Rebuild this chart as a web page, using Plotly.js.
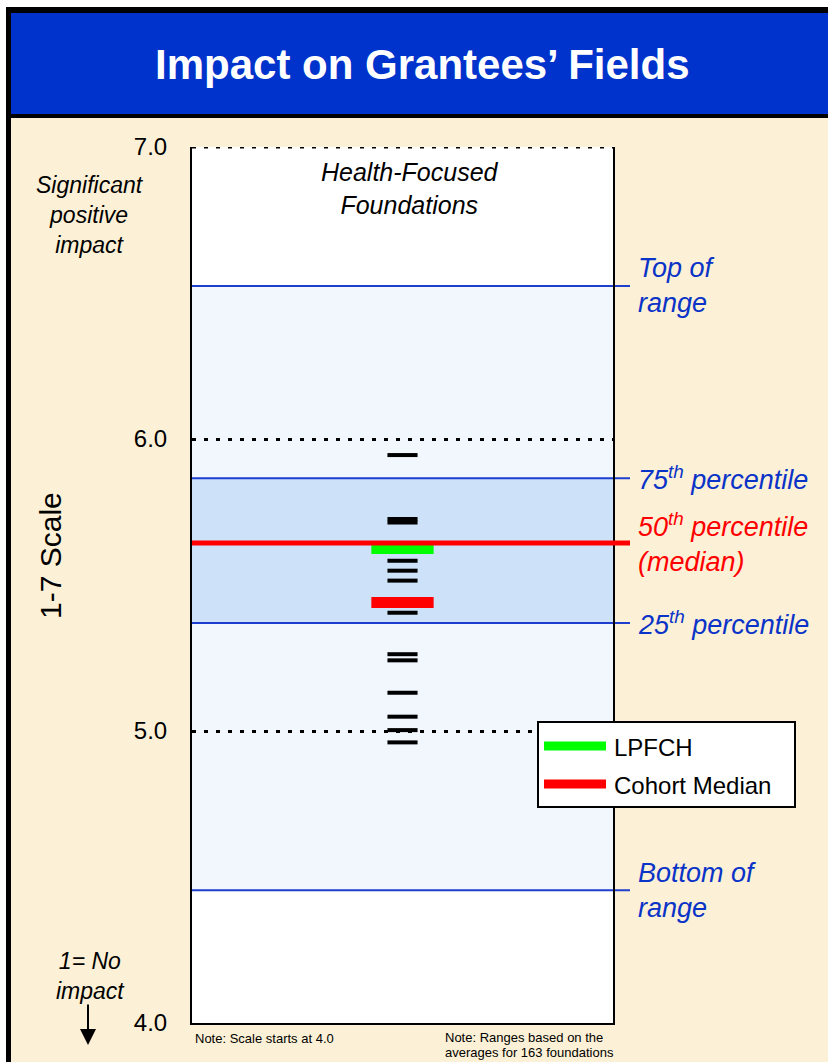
<!DOCTYPE html>
<html><head><meta charset="utf-8">
<script src="https://cdn.plot.ly/plotly-3.0.1.min.js"></script>
<style>html,body{margin:0;padding:0;background:#fff}#chart{width:828px;height:1062px}</style>
</head><body><div id="chart"></div>
<script>
// ---- data ----
const chartTitle = "Impact on Grantees’ Fields";
const panelCategory = "Health-Focused Foundations";
const panelLabel = "Health-Focused<br>Foundations";
const yTickValues = [4, 5, 6, 7];
const yTickLabels = ["4.0", "5.0", "6.0", "7.0"];
const foundationScores = [5.945, 5.726, 5.714, 5.583, 5.549, 5.515, 5.405, 5.263, 5.242, 5.131, 5.049, 5.003, 4.961];
const lpfchScore = [5.625];
const cohortMedianScore = [5.440];
const seriesNames = ["LPFCH", "Cohort Median"];
const rangeLabels = ["Top of<br>range", "75<sup>th</sup> percentile", "50<sup>th</sup> percentile<br>(median)", "25<sup>th</sup> percentile", "Bottom of<br>range"];
const rangeValues = [6.524, 5.866, 5.644, 5.370, 4.455];
const yAxisTitle = "1-7 Scale";
const topNote = "Significant<br>positive<br>impact";
const bottomNote = "1= No<br>impact";
const footNotes = ["Note: Scale starts at 4.0", "Note: Ranges based on the", "averages for 163 foundations"];

// ---- geometry helpers (pixel -> paper) ----
const W = 828, H = 1062, L = 192, R = 613, T = 147, B = 1023;
const px = v => (v - L) / (R - L);
const py = v => (B - v) / (B - T);
const FONT = "Liberation Sans, Arial, Helvetica, sans-serif";
const BLUE = "#0a33c8";
const LINEBLUE = "#1e3ed0";

const xs = arr => arr.map(() => panelCategory);

const traces = [
  {type: "scatter", mode: "markers", x: xs(foundationScores), y: foundationScores, name: "Foundations",
   marker: {symbol: "line-ew", size: 21.5, line: {width: 4, color: "#000"}}, hoverinfo: "y", showlegend: false},
  {type: "scatter", mode: "markers", x: xs(lpfchScore), y: lpfchScore, name: seriesNames[0],
   marker: {symbol: "line-ew", size: 44.5, line: {width: 11, color: "#00ff00"}}, showlegend: false},
  {type: "scatter", mode: "markers", x: xs(cohortMedianScore), y: cohortMedianScore, name: seriesNames[1],
   marker: {symbol: "line-ew", size: 44.5, line: {width: 11, color: "#ff0000"}}, showlegend: false}
];

const shapes = [];
const rect = (x0, y0, x1, y1, color) => shapes.push({type: "rect", xref: "paper", yref: "paper",
  x0: px(x0), x1: px(x1), y0: py(y1), y1: py(y0), fillcolor: color, line: {width: 0}, layer: "below"});
// frame
rect(0, 0, W + 5, 7, "#ffffff");
rect(0, 0, 6, H + 5, "#ffffff");
rect(6, 7, W + 5, 13, "#000000");
rect(6, 7, 11, H + 5, "#000000");
rect(11, 13, W + 5, 114, "#0033cc");
rect(11, 114, W + 5, 118, "#000000");

// range shading
shapes.push({type: "rect", xref: "x domain", yref: "y", x0: 0, x1: 1, y0: rangeValues[4], y1: rangeValues[0],
  fillcolor: "#f2f7fe", line: {width: 0}, layer: "below"});
shapes.push({type: "rect", xref: "x domain", yref: "y", x0: 0, x1: 1, y0: rangeValues[3], y1: rangeValues[1],
  fillcolor: "#cde2f9", line: {width: 0}, layer: "below"});
// dotted top edge at the scale maximum (grid is skipped at the axis edge)
const yMax = yTickValues[yTickValues.length - 1];
shapes.push({type: "line", xref: "paper", yref: "y", x0: 0, x1: 1, y0: yMax, y1: yMax,
  line: {color: "#000", width: 3, dash: "4px,8px"}, layer: "above"});
// range lines
rangeValues.forEach((v, i) => {
  const isMed = i === 2;
  shapes.push({type: "line", xref: "paper", yref: "y", x0: 0, x1: px(630), y0: v, y1: v,
    line: {color: isMed ? "#ff0000" : LINEBLUE, width: isMed ? 5 : 2}, layer: isMed ? "above" : "between"});
});
// legend box
shapes.push({type: "rect", xref: "paper", yref: "paper", x0: px(538), x1: px(795), y0: py(807), y1: py(722),
  fillcolor: "#ffffff", line: {color: "#000", width: 2}, layer: "above"});
shapes.push({type: "line", xref: "paper", yref: "paper", x0: px(544), x1: px(606), y0: py(746), y1: py(746),
  line: {color: "#00ff00", width: 9}, layer: "above"});
shapes.push({type: "line", xref: "paper", yref: "paper", x0: px(544), x1: px(606), y0: py(784), y1: py(784),
  line: {color: "#ff0000", width: 9}, layer: "above"});

const ann = [];
const txt = (text, x, y, size, opts = {}) => ann.push(Object.assign({text, xref: "paper", yref: "paper",
  x: px(x), y: py(y), showarrow: false, xanchor: "center", yanchor: "middle",
  font: {family: FONT, size, color: "#000"}}, opts));

txt("<b>" + chartTitle + "</b>", 422, 65, 42, {font: {family: FONT, size: 42, color: "#ffffff"}});
txt("<i>" + panelLabel + "</i>", 410, 189, 25);
txt("<i>" + topNote + "</i>", 90, 215, 23);
txt("<i>" + bottomNote + "</i>", 90, 976, 23);
txt(yAxisTitle, 50, 556, 30, {textangle: -90});
txt(seriesNames[0], 612, 747, 24, {xanchor: "left"});
txt(seriesNames[1], 612, 785, 24, {xanchor: "left"});
txt(footNotes[0], 193, 1038, 13, {xanchor: "left"});
txt(footNotes[1], 443, 1037, 13, {xanchor: "left"});
txt(footNotes[2], 443, 1052, 13, {xanchor: "left"});
rangeLabels.forEach((t, i) => {
  ann.push({text: "<i>" + t + "</i>", xref: "paper", yref: "y", x: px(636), y: rangeValues[i],
    xanchor: "left", yanchor: "middle", align: "left", showarrow: false,
    font: {family: FONT, size: 27, color: i === 2 ? "#ff0000" : BLUE}});
});
// arrow
ann.push({text: "", xref: "paper", yref: "paper", x: px(88), y: py(1045), ax: 0, ay: -42,
  showarrow: true, arrowhead: 2, arrowsize: 1.6, arrowwidth: 2, arrowcolor: "#000"});

const layout = {
  width: W, height: H,
  margin: {l: L, r: W - R, t: T, b: H - B, pad: 0},
  paper_bgcolor: "#fcf1d6",
  plot_bgcolor: "#ffffff",
  showlegend: false,
  font: {family: FONT, color: "#000"},
  xaxis: {type: "category", range: [-0.5, 0.5], showgrid: false, zeroline: false, showticklabels: false,
    ticks: "", showline: true, linecolor: "#000", linewidth: 2, mirror: false, fixedrange: true},
  yaxis: {range: [4, 7], tickvals: yTickValues, ticktext: yTickLabels, showgrid: true,
    gridcolor: "#000", gridwidth: 3, griddash: "4px,8px", zeroline: false,
    showline: true, linecolor: "#000", linewidth: 2, mirror: true, ticks: "", ticklabelstandoff: 18,
    tickfont: {family: FONT, size: 24, color: "#000"}, fixedrange: true},
  shapes: shapes,
  annotations: ann
};

Plotly.newPlot("chart", traces, layout, {displayModeBar: false, staticPlot: true});
</script>
</body></html>
